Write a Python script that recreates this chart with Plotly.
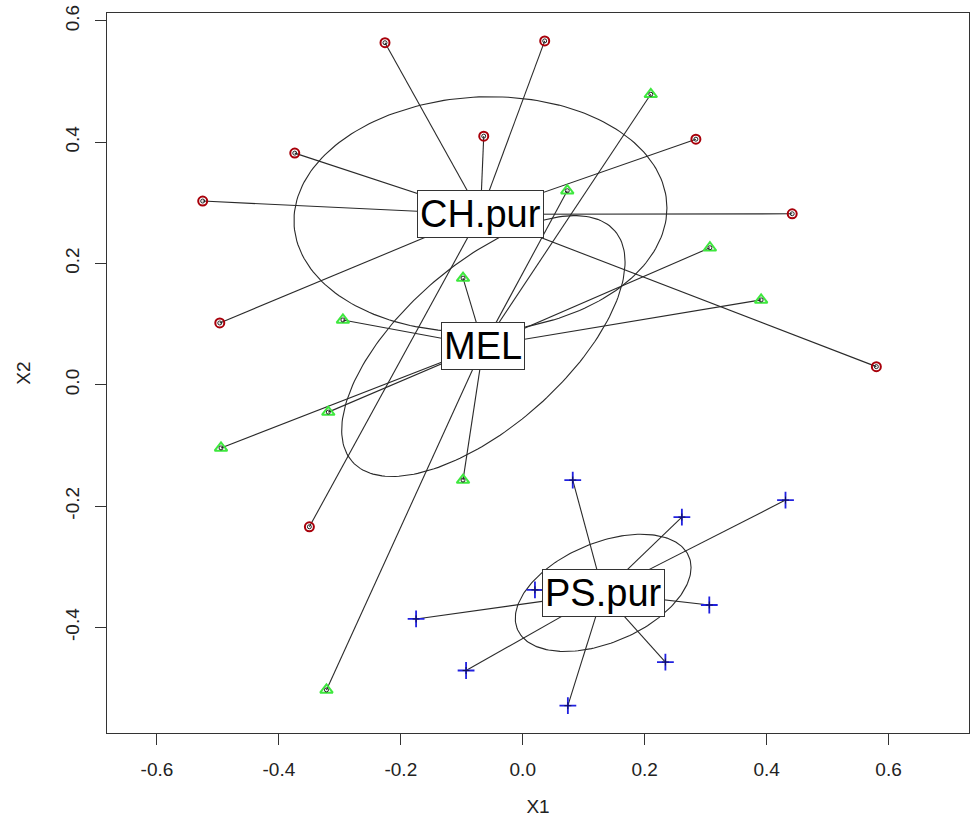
import numpy as np
import plotly.graph_objects as go

# ---- data (site scores, X1 / X2) ----
ch_x = [-0.226, 0.036, -0.064, -0.374, 0.284, -0.525, 0.442, -0.497, 0.580, -0.350]
ch_y = [0.564, 0.567, 0.410, 0.382, 0.405, 0.303, 0.282, 0.102, 0.030, -0.234]

mel_x = [0.210, 0.073, 0.307, -0.098, 0.391, -0.295, -0.319, -0.495, -0.098, -0.322]
mel_y = [0.479, 0.320, 0.226, 0.176, 0.140, 0.107, -0.045, -0.104, -0.157, -0.503]

ps_x = [0.082, 0.431, 0.261, 0.020, -0.175, 0.306, 0.234, -0.093, 0.074, 0.179]
ps_y = [-0.157, -0.190, -0.218, -0.338, -0.386, -0.363, -0.457, -0.471, -0.529, -0.321]

group_names = ["CH.pur", "MEL", "PS.pur"]

x_ticks = [-0.6, -0.4, -0.2, 0.0, 0.2, 0.4, 0.6]
x_ticktext = ["-0.6", "-0.4", "-0.2", "0.0", "0.2", "0.4", "0.6"]
y_ticks = [-0.4, -0.2, 0.0, 0.2, 0.4, 0.6]
y_ticktext = ["-0.4", "-0.2", "0.0", "0.2", "0.4", "0.6"]

groups = [
    (group_names[0], ch_x, ch_y),
    (group_names[1], mel_x, mel_y),
    (group_names[2], ps_x, ps_y),
]

CHI2_95_2DF = 5.991464547107979
LINE_COL = "#2a2a2a"

fig = go.Figure()

centroids = []
for name, gx, gy in groups:
    xa, ya = np.array(gx), np.array(gy)
    cx, cy = xa.mean(), ya.mean()
    centroids.append((name, cx, cy))
    # spider lines
    lx, ly = [], []
    for px, py in zip(gx, gy):
        lx += [cx, px, None]
        ly += [cy, py, None]
    fig.add_trace(go.Scatter(x=lx, y=ly, mode="lines",
                             line=dict(color=LINE_COL, width=1.1),
                             hoverinfo="skip", showlegend=False))
    # standard-error ellipse (95%)
    cov = np.cov(np.vstack([xa, ya])) / len(xa)
    L = np.linalg.cholesky(cov)
    t = np.linspace(0, 2 * np.pi, 200)
    circ = np.vstack([np.cos(t), np.sin(t)]) * np.sqrt(CHI2_95_2DF)
    ell = L @ circ
    fig.add_trace(go.Scatter(x=cx + ell[0], y=cy + ell[1], mode="lines",
                             line=dict(color=LINE_COL, width=1.1),
                             hoverinfo="skip", showlegend=False))

# points
fig.add_trace(go.Scatter(x=ch_x, y=ch_y, mode="markers", name=group_names[0],
                         marker=dict(symbol="circle-open", size=9, color="#a8000a",
                                     line=dict(width=2, color="#a8000a")),
                         showlegend=False))
fig.add_trace(go.Scatter(x=mel_x, y=mel_y, mode="markers", name=group_names[1],
                         marker=dict(symbol="triangle-up-open", size=11, color="#3ee83e",
                                     line=dict(width=2, color="#3ee83e")),
                         showlegend=False))
fig.add_trace(go.Scatter(x=ps_x, y=ps_y, mode="markers", name=group_names[2],
                         marker=dict(symbol="cross-thin-open", size=12, color="#2020e0",
                                     line=dict(width=1.8, color="#2020e0")),
                         showlegend=False))
# small black inner circles
all_x = ch_x + mel_x
all_y = ch_y + mel_y
fig.add_trace(go.Scatter(x=all_x, y=all_y, mode="markers",
                         marker=dict(symbol="circle-open", size=4, color="#222222",
                                     line=dict(width=1, color="#222222")),
                         hoverinfo="skip", showlegend=False))
fig.add_trace(go.Scatter(x=ps_x, y=ps_y, mode="markers",
                         marker=dict(symbol="cross-thin-open", size=5, color="#111155",
                                     line=dict(width=1, color="#111155")),
                         hoverinfo="skip", showlegend=False))

for name, cx, cy in centroids:
    fig.add_annotation(x=cx, y=cy, text=name, showarrow=False,
                       font=dict(family="Liberation Sans, Arial", size=38, color="black"),
                       bgcolor="white", bordercolor="#333333", borderwidth=1, borderpad=2)

axis_font = dict(family="Liberation Sans, Arial", size=19, color="#222222")
fig.update_layout(
    width=970, height=825,
    margin=dict(l=107, r=1, t=13, b=92),
    plot_bgcolor="white", paper_bgcolor="white",
    xaxis=dict(range=[-0.682, 0.732], tickvals=x_ticks, ticktext=x_ticktext,
               showgrid=False, zeroline=False, showline=True, mirror=True,
               linecolor="#333333", linewidth=1, ticks="outside", ticklen=11,
               tickcolor="#333333", tickfont=axis_font, ticklabelstandoff=8,
               title=dict(text="X1", font=axis_font, standoff=20)),
    yaxis=dict(range=[-0.574, 0.613], tickvals=y_ticks, ticktext=y_ticktext,
               showgrid=False, zeroline=False, showline=True, mirror=True,
               linecolor="#333333", linewidth=1, ticks="outside", ticklen=11,
               tickcolor="#333333", tickfont=axis_font, tickangle=-90,
               ticklabelstandoff=8,
               title=dict(text="X2", font=axis_font, standoff=26)),
)

fig.write_html("out.html", config={"displayModeBar": False},
               post_script="document.body.style.margin='0';")
